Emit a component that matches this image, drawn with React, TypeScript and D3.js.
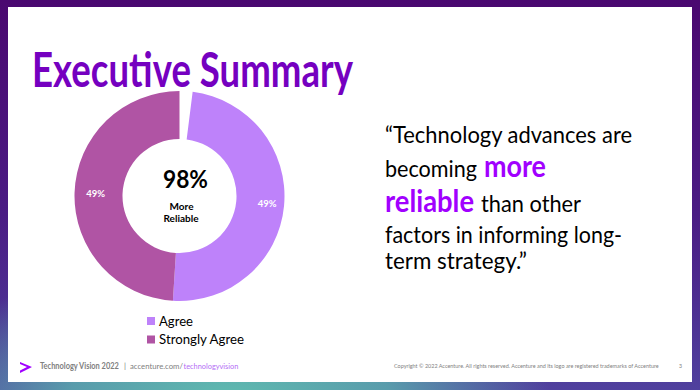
import React, { useLayoutEffect, useRef, useState } from "react";
import * as d3 from "d3";

const categories = ["Agree", "Strongly Agree"];
const values = [49, 49];
const colors = ["#be82fa", "#b054a4"];
const totalLabel = "98%";
const centerLines = ["More", "Reliable"];

const W = 700;
const H = 390;

function FitText(props: {
  x: number;
  y: number;
  width: number;
  fontSize: number;
  fill: string;
  fontWeight?: number;
  children: string;
}) {
  const ref = useRef<SVGTextElement>(null);
  const [sx, setSx] = useState(1);
  useLayoutEffect(() => {
    if (ref.current) {
      const len = ref.current.getComputedTextLength();
      if (len > 0) setSx(props.width / len);
    }
  }, [props.width, props.children]);
  return (
    <text
      ref={ref}
      transform={`translate(${props.x},${props.y}) scale(${sx},1)`}
      fontSize={props.fontSize}
      fill={props.fill}
      fontWeight={props.fontWeight || 400}
    >
      {props.children}
    </text>
  );
}

export default function App() {
  const cx = 179.5;
  const cy = 196;
  const outerR = 105;
  const innerR = 57;
  const sum = d3.sum(values);
  const start = ((100 - sum) / 100) * 2 * Math.PI;
  const pie = d3
    .pie<number>()
    .sort(null)
    .value((d) => d)
    .startAngle(start)
    .endAngle(2 * Math.PI);
  const arcs = pie(values);
  const arc = d3.arc<d3.PieArcDatum<number>>().innerRadius(innerR).outerRadius(outerR);
  const labelArc = d3.arc<d3.PieArcDatum<number>>().innerRadius(84).outerRadius(84);

  const font = "Lato, 'Open Sans', sans-serif";

  return (
    <svg width={W} height={H} style={{ position: "absolute", left: 0, top: 0 }} fontFamily={font}>
      <defs>
        <linearGradient id="bg" x1="0" y1="0" x2="0" y2="1">
          <stop offset="0" stopColor="#4a0870" />
          <stop offset="0.55" stopColor="#4a1c84" />
          <stop offset="1" stopColor="#50409e" />
        </linearGradient>
        <radialGradient id="teal" cx="230" cy="400" r="320" gradientUnits="userSpaceOnUse"
          gradientTransform="translate(230 400) scale(1 0.45) translate(-230 -400)">
          <stop offset="0" stopColor="#5fbcb0" stopOpacity="1" />
          <stop offset="0.5" stopColor="#5aa6ad" stopOpacity="0.9" />
          <stop offset="1" stopColor="#5aa6ad" stopOpacity="0" />
        </radialGradient>
      </defs>
      <rect x={0} y={0} width={W} height={H} fill="url(#bg)" />
      <rect x={0} y={0} width={W} height={H} fill="url(#teal)" />
      <rect x={8} y={7} width={684} height={375} fill="#ffffff" />

      {/* Title */}
      <text x={32} y={87} fontSize={47} fontWeight={700} fill="#7500c0"
        textLength={321} lengthAdjust="spacingAndGlyphs">Executive Summary</text>

      {/* Donut */}
      <g>
        {arcs.map((a, i) => (
          <path key={categories[i]} d={arc(a) || ""} transform={`translate(${cx},${cy})`} fill={colors[i]} />
        ))}
        {arcs.map((a, i) => {
          const [lx, ly] = labelArc.centroid(a);
          return (
            <text key={"l" + i} x={cx + lx + (i === 0 ? 4 : 0)} y={cy + ly} dy="0.35em" textAnchor="middle"
              fontSize={9.5} fontWeight={700} fill="#ffffff">
              {values[i]}%
            </text>
          );
        })}
        <text x={185.5} y={188} textAnchor="middle" fontSize={25} fontWeight={700} fill="#000000"
          textLength={45} lengthAdjust="spacingAndGlyphs">{totalLabel}</text>
        <text x={181.5} y={210} textAnchor="middle" fontSize={10} fontWeight={700} fill="#000000">{centerLines[0]}</text>
        <text x={181} y={221.5} textAnchor="middle" fontSize={10} fontWeight={700} fill="#000000">{centerLines[1]}</text>
      </g>

      {/* Legend */}
      {categories.map((c, i) => (
        <g key={"lg" + c}>
          <rect x={147} y={317 + i * 18.5} width={8} height={8} fill={colors[i]} />
          <text x={159} y={325.5 + i * 18} fontSize={14} fill="#000000"
            textLength={i === 0 ? 34 : 85} lengthAdjust="spacingAndGlyphs">{c}</text>
        </g>
      ))}

      {/* Quote */}
      <g fontSize={22.5} fill="#000000">
        <text x={385} y={143} textLength={247} lengthAdjust="spacingAndGlyphs">“Technology advances are</text>
        <text x={385} y={177} textLength={92} lengthAdjust="spacingAndGlyphs">becoming</text>
        <text x={484} y={177} fontSize={31} fontWeight={700} fill="#a100ff" textLength={62} lengthAdjust="spacingAndGlyphs">more</text>
        <text x={385} y={212} fontSize={31} fontWeight={700} fill="#a100ff" textLength={89} lengthAdjust="spacingAndGlyphs">reliable</text>
        <text x={481} y={212} textLength={100} lengthAdjust="spacingAndGlyphs">than other</text>
        <text x={385} y={242.5} textLength={237} lengthAdjust="spacingAndGlyphs">factors in informing long-</text>
        <text x={385} y={269} textLength={142} lengthAdjust="spacingAndGlyphs">term strategy.”</text>
      </g>

      {/* Footer */}
      <path d="M20,362 L32,367 L20,373 L20,370.5 L27,367 L20,364 Z" fill="#a100ff" />
      <FitText x={40} y={368.5} width={79} fontSize={8.5} fontWeight={700} fill="#808080">Technology Vision 2022</FitText>
      <FitText x={124} y={368.5} width={2} fontSize={8.5} fill="#808080">|</FitText>
      <FitText x={130} y={368.5} width={53} fontSize={8.5} fill="#808080">accenture.com/</FitText>
      <FitText x={183.5} y={368.5} width={55} fontSize={8.5} fill="#b46ef5">technologyvision</FitText>
      <FitText x={394} y={368} width={265} fontSize={6.2} fill="#808080">Copyright © 2022 Accenture. All rights reserved. Accenture and its logo are registered trademarks of Accenture</FitText>
      <FitText x={679} y={368} width={3} fontSize={6.2} fill="#808080">3</FitText>
    </svg>
  );
}
